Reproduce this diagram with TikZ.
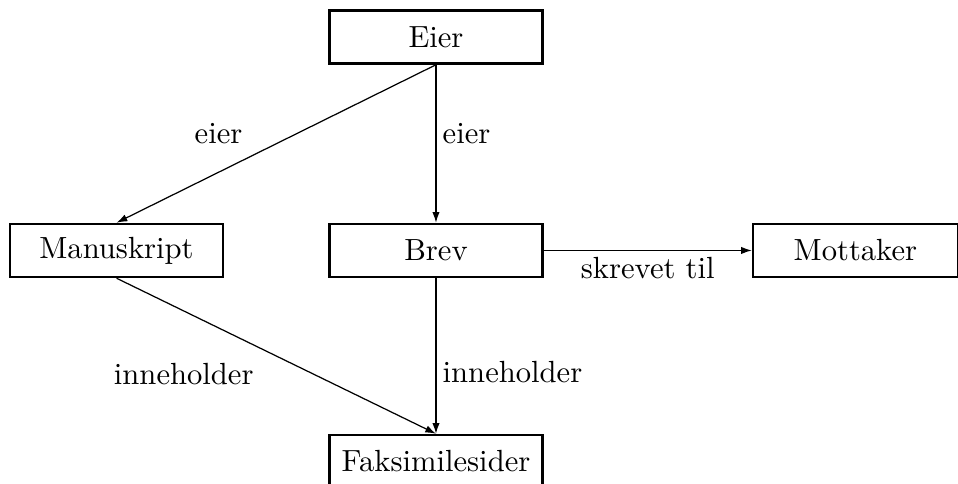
\documentclass[tikz,border=0pt]{standalone}
\usetikzlibrary{arrows.meta}
\begin{document}
\begin{tikzpicture}[box/.style={draw,line width=0.8pt,minimum width=2.446cm,minimum height=0.609cm,inner sep=0pt},
    lbl/.style={inner sep=2pt},
    >={Latex[length=3.5pt,width=2.4pt]}]
    \useasboundingbox (0,0) rectangle (11,-5.557);
    \node[box] (eier) at (5.006,-0.425) {Eier};
    \node[box] (manus) at (1.338,-2.876) {Manuskript};
    \node[box] (brev) at (5.006,-2.876) {Brev};
    \node[box,minimum width=2.35cm] (mottaker) at (9.822,-2.876) {Mottaker};
    \node[box] (faks) at (5.006,-5.299) {Faksimilesider};
    \draw[->] (eier.south) -- (manus.north) node[lbl,pos=0.585,anchor=south east,yshift=0.8mm]{eier};
    \draw[->] (eier.south) -- (brev.north) node[lbl,midway,anchor=base west]{eier};
    \draw[->] (brev.east) -- (mottaker.west) node[lbl,midway,anchor=north]{skrevet til};
    \draw[->] (manus.south) -- (faks.north) node[lbl,pos=0.45,anchor=north east,yshift=-0.9mm]{inneholder};
    \draw[->] (brev.south) -- (faks.north) node[lbl,pos=0.67,anchor=base west]{inneholder};
%    \draw (faks.south) -- (faks.north);
\end{tikzpicture}
\end{document}
